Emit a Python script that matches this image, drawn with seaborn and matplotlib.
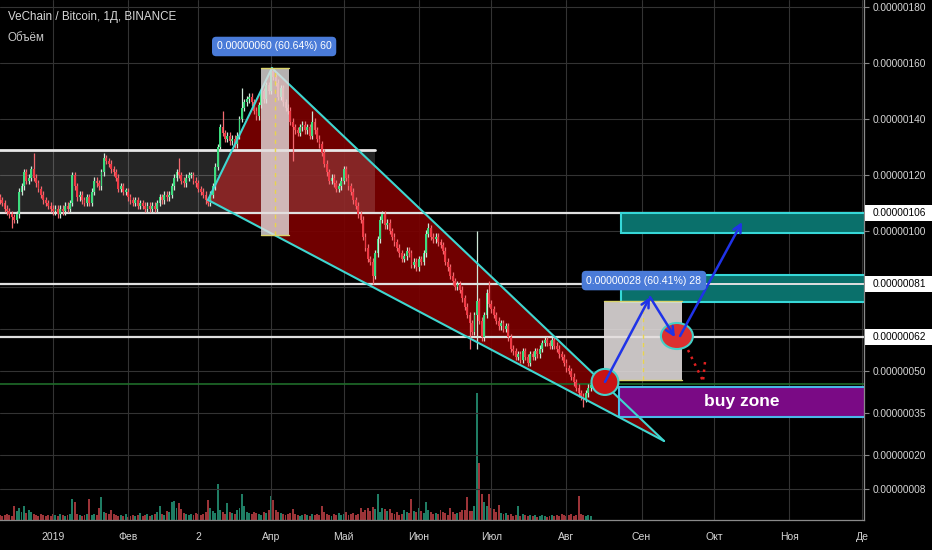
import numpy as np
import pandas as pd
import matplotlib
matplotlib.use("Agg")
import matplotlib.pyplot as plt
import seaborn as sns
from matplotlib.patches import Rectangle, Polygon, Ellipse
from matplotlib.transforms import blended_transform_factory

# ---------------- data (price in 1e-8 BTC, x = days since 2019-01-01) -------------
first_day = -22
closes = [
    111, 110, 108, 107, 106, 105, 104, 106, 114, 116,
    121, 118, 119, 122, 119, 117, 115, 113, 111, 110,
    109, 108, 107, 108, 106, 108, 107, 109, 108, 110,
    120, 116, 112, 113, 111, 110, 112, 110, 114, 118,
    117, 116, 121, 126, 125, 124, 122, 121, 119, 115,
    116, 114, 114, 112, 111, 110, 111, 109, 110, 109,
    108, 109, 108, 109, 108, 110, 112, 111, 113, 112,
    113, 116, 119, 121, 120, 118, 117, 119, 120, 120,
    118, 117, 115, 114, 113, 111, 110, 113, 116, 123,
    130, 137, 135, 133, 134, 132, 133, 131, 134, 140,
    144, 146, 147, 148, 146, 143, 141, 145, 150, 147,
    152, 150, 157, 155, 153, 148, 151, 146, 144, 143,
    139, 137, 136, 135, 137, 138, 136, 137, 134, 139,
    136, 133, 131, 128, 124, 121, 118, 119, 117, 115,
    116, 118, 122, 119, 116, 114, 111, 109, 106, 104,
    98, 94, 90, 89, 84, 92, 97, 104, 106, 102,
    103, 100, 98, 96, 94, 92, 90, 91, 93, 92,
    88, 89, 87, 90, 89, 92, 99, 101, 98, 97,
    98, 96, 95, 93, 89, 87, 84, 82, 80, 81,
    79, 76, 73, 70, 67, 64, 70, 75, 68, 62,
    70, 78, 74, 72, 70, 68, 66, 67, 65, 66,
    62, 58, 57, 55, 56, 54, 57, 55, 53, 56,
    55, 57, 56, 58, 60, 61, 60, 59, 61, 59,
    58, 56, 55, 53, 51, 50, 48, 46, 44, 42,
    41, 40, 42, 44, 45,
]
first_open = 112
volumes = [
    5, 4, 5, 6, 5, 4, 14, 9, 12, 8,
    14, 7, 10, 8, 6, 5, 4, 6, 5, 4,
    5, 4, 6, 5, 4, 6, 5, 4, 5, 6,
    21, 18, 6, 5, 4, 5, 6, 21, 5, 6,
    5, 12, 23, 8, 7, 6, 10, 6, 5, 4,
    5, 4, 6, 3, 4, 5, 4, 5, 7, 4,
    5, 6, 4, 5, 6, 8, 14, 6, 5, 9,
    8, 18, 19, 12, 17, 11, 7, 6, 5, 6,
    5, 7, 6, 5, 6, 8, 20, 12, 9, 7,
    36, 10, 8, 6, 17, 8, 7, 6, 10, 12,
    26, 14, 8, 7, 6, 8, 7, 6, 5, 8,
    7, 10, 24, 20, 10, 8, 7, 6, 5, 6,
    7, 11, 6, 5, 4, 5, 6, 5, 4, 6,
    5, 6, 5, 14, 8, 6, 5, 4, 6, 5,
    7, 5, 6, 8, 5, 6, 7, 5, 6, 12,
    8, 10, 12, 9, 13, 11, 26, 8, 12, 11,
    9, 11, 7, 6, 8, 5, 6, 10, 8, 7,
    21, 9, 8, 12, 9, 7, 18, 10, 8, 6,
    7, 6, 10, 8, 7, 5, 12, 8, 6, 7,
    8, 10, 10, 23, 9, 9, 14, 127, 57, 26,
    18, 14, 26, 12, 11, 8, 15, 7, 6, 7,
    5, 6, 4, 5, 14, 4, 6, 5, 4, 5,
    4, 5, 3, 4, 5, 4, 3, 4, 5, 4,
    5, 4, 6, 5, 4, 5, 6, 4, 5, 24,
    6, 5, 4, 5, 4,
]
wick_highs = {-8: 128, 21: 128, 52: 126, 70: 143, 78: 151, 90: 158.5, 107: 143,
              155: 103, 175: 100, 180: 82}
wick_lows = {-17: 101, 99: 125, 132: 81, 172: 58, 175: 58, 219: 37}
wick_default = 1.2

month_ticks = [0, 31, 60, 90, 120, 151, 181, 212, 243, 273, 304, 334]
month_labels = ["2019", "Фев", "2", "Апр", "Май", "Июн", "Июл", "Авг", "Сен", "Окт", "Ноя", "Де"]
price_ticks = [180, 160, 140, 120, 100, 80, 65, 50, 35, 20, 8]
hidden_tick_labels = [80, 65]   # covered by the level labels in the reference
level_lines = [106.4, 81.1, 62.1]
level_labels = ["0.00000106", "0.00000081", "0.00000062"]

range_box = (-30, 133, 106.4, 129)          # x0, x1, y0, y1
wedge = [(64, 111.1), (90.4, 158.2), (252.3, 25)]
measure1 = (85.9, 97.4, 98.6, 158.2, 91.7)   # x0, x1, y0, y1, dashed x
measure2 = (227.5, 259.7, 46.8, 75.0, 243.6)
teal_boxes = [(234.5, 99.3, 106.4), (234.5, 74.6, 84.3)]
buy_zone = (233.7, 33.6, 44.3)
green_level = 45.4
circles = [(227.9, 46.1, 11.1, 9.3), (257.6, 62.5, 13.2, 9.3)]
arrows = [((227.9, 46.1), (246.5, 76.4)), ((246.5, 76.4), (256.8, 62.1)),
          ((258.9, 62.5), (284.5, 103.2))]
dotted = [([262.2, 268.4], [57.5, 46.4]), ([269.2, 268.4], [53.2, 46.6])]

# ---------------- derived ----------------
days = np.arange(first_day, first_day + len(closes))
c = np.array(closes, float)
o = np.array([first_open] + closes[:-1], float)
hi = np.maximum(o, c) + wick_default
lo = np.minimum(o, c) - wick_default
for d, v in wick_highs.items():
    hi[d - first_day] = max(hi[d - first_day], v)
for d, v in wick_lows.items():
    lo[d - first_day] = min(lo[d - first_day], v)
up = c >= o

# ---------------- figure ----------------
sns.set_theme(style="dark")
plt.rcParams["font.family"] = ["Liberation Sans", "DejaVu Sans"]

W, H = 932, 550
fig = plt.figure(figsize=(W / 100, H / 100), dpi=100, facecolor="black")
pos = [0, 30 / H, 864 / W, 520 / H]
ax_v = fig.add_axes(pos)
ax = fig.add_axes(pos, sharex=ax_v)
ax_v.set_facecolor("black")
ax.patch.set_alpha(0)

XL = (-21.88, 334.85)
YL = (-3.21, 182.5)

# volume
df = pd.DataFrame({"day": days, "vol": volumes, "dir": np.where(up, "up", "down")})
sns.barplot(data=df, x="day", y="vol", hue="dir", native_scale=True, dodge=False,
            palette={"up": "#1f7d64", "down": "#9c3438"}, saturation=1,
            errorbar=None, legend=False, width=0.8, linewidth=0, edgecolor="none", ax=ax_v)
ax_v.set_ylim(0, 520)
ax_v.axis("off")

# grid
ax.set_axisbelow(True)
ax.grid(True, color="#333333", lw=0.8)

# range box + wedge
ax.add_patch(Polygon(wedge, closed=True, fc="#7a0000", ec="none", alpha=0.92, zorder=1))
ax.add_patch(Rectangle((range_box[0], range_box[2]), range_box[1] - range_box[0],
                       range_box[3] - range_box[2], fc="white", alpha=0.15, ec="none", zorder=1.1))
ax.plot([range_box[0], range_box[1]], [range_box[3]] * 2, color="#e8e8e8", lw=2, zorder=1.5)

# horizontal levels
for v in level_lines:
    ax.axhline(v, color="#e0e0e0", lw=1.6, zorder=1.5)
ax.axhline(green_level, color="#1f6b2a", lw=1.2, zorder=1.5)

# teal boxes + buy zone
for x0, y0, y1 in teal_boxes:
    ax.add_patch(Rectangle((x0, y0), 400, y1 - y0, fc="#0a706b", ec="#36d8d8", lw=1.5, zorder=2))
ax.add_patch(Rectangle((buy_zone[0], buy_zone[1]), 400, buy_zone[2] - buy_zone[1],
                       fc="#7a0a85", ec="#4ab8e8", lw=1.5, zorder=2))
ax.axhline(level_lines[1], color="#e0e0e0", lw=1.4, zorder=2.2)
ax.text((buy_zone[0] + XL[1]) / 2, (buy_zone[1] + buy_zone[2]) / 2, "buy zone",
        color="white", fontsize=12.5, fontweight="bold", ha="center", va="center", zorder=8)

# candles
up_col, dn_col = "#3ddc7e", "#f03a45"
cols = np.where(up, up_col, dn_col)
wick_cols = np.where(up, "#cfe9d8", "#f26a70")
ax.vlines(days, lo, hi, colors=wick_cols, lw=0.9, zorder=3)
body_h = np.maximum(np.abs(c - o), 0.5)
ax.bar(days, body_h, bottom=np.minimum(o, c), width=0.75, color=cols, lw=0, zorder=3.1)

# wedge outline
(xa, ya), (xb, yb), (xc, yc) = wedge
ax.plot([xa, xb], [ya, yb], color="#3fd6d0", lw=1.5, zorder=4)
ax.plot([xb, xc], [yb, yc], color="#3fd6d0", lw=1.5, zorder=4)
ax.plot([xa, xc], [ya, yc], color="#3fd6d0", lw=1.5, zorder=4)

# measurement boxes
for (x0, x1, y0, y1, xm), alpha in [(measure1, 0.8), (measure2, 0.88)]:
    ax.add_patch(Rectangle((x0, y0), x1 - x0, y1 - y0, fc="#e4dede", ec="none", alpha=alpha, zorder=4.5))
    ax.plot([x0, x1], [y1, y1], color="#d9d36a", lw=1, zorder=4.6)
    ax.plot([x0, x1], [y0, y0], color="#d9d36a", lw=1, zorder=4.6)
    ax.plot([xm, xm], [y0, y1], color="#e8d44d", lw=1, ls=(0, (3, 3)), zorder=4.6)

ax.text(91.3, 165.9, "0.00000060 (60.64%) 60", color="white", fontsize=7.6, ha="center",
        va="center", zorder=8,
        bbox=dict(boxstyle="round,pad=0.45,rounding_size=0.4", fc="#4a7bd8", ec="none"))
ax.text(244.0, 82.3, "0.00000028 (60.41%) 28", color="white", fontsize=7.6, ha="center",
        va="center", zorder=8,
        bbox=dict(boxstyle="round,pad=0.45,rounding_size=0.4", fc="#4a7bd8", ec="none"))

# circles, arrows, dotted
for (cx, cy, w, h), fc in zip(circles, ["#c81414", "#dc3030"]):
    ax.add_patch(Ellipse((cx, cy), w, h, fc=fc, ec="#45d0c8", lw=1.5, zorder=6))
for s, e in arrows:
    ax.annotate("", xy=e, xytext=s, zorder=7,
                arrowprops=dict(arrowstyle="->", color="#1f33e8", lw=1.8,
                                mutation_scale=14, shrinkA=0, shrinkB=0))
for xs, ys in dotted:
    ax.plot(xs, ys, color="#e02020", lw=1.8, ls=(0, (1, 2)), zorder=7)

# axes formatting
ax.set_xlim(*XL)
ax.set_ylim(*YL)
ax.set_xticks(month_ticks)
ax.set_xticklabels(month_labels)
ax.yaxis.tick_right()
ax.set_yticks(price_ticks)
ax.set_yticklabels(["" if v in hidden_tick_labels else f"0.{int(v):08d}" for v in price_ticks])
ax.tick_params(axis="y", colors="#8a8a8a", labelcolor="#d6d6d6", labelsize=7.3,
               length=3.5, width=0.8, pad=3, direction="out")
ax.tick_params(axis="x", colors="#8a8a8a", labelcolor="#d6d6d6", labelsize=7.5,
               length=3, width=0.8, pad=6, direction="out")
ax.set_xlabel("")
ax.set_ylabel("")
for side in ["top", "left"]:
    ax.spines[side].set_visible(False)
for side in ["right", "bottom"]:
    ax.spines[side].set_visible(True)
    ax.spines[side].set_color("#8a8a8a")
    ax.spines[side].set_linewidth(0.9)

# price labels on axis
tr = blended_transform_factory(fig.transFigure, ax.transData)
for v, lab in zip(level_lines, level_labels):
    fig.add_artist(Rectangle((865 / W, v - 2.9), 67 / W, 5.8, transform=tr, fc="white",
                             ec="none", zorder=5))
    fig.text(873 / W, v, lab, transform=tr, color="black", fontsize=7.3, va="center",
             ha="left", zorder=6)

# header
fig.text(8 / W, 1 - 17 / H, "VeChain / Bitcoin, 1Д, BINANCE", color="#d8d8d8", fontsize=8.4,
         va="center", ha="left")
fig.text(8 / W, 1 - 38 / H, "Объём", color="#c8c8c8", fontsize=8.4, va="center", ha="left")

fig.savefig("out.png", dpi=100, facecolor="black")
